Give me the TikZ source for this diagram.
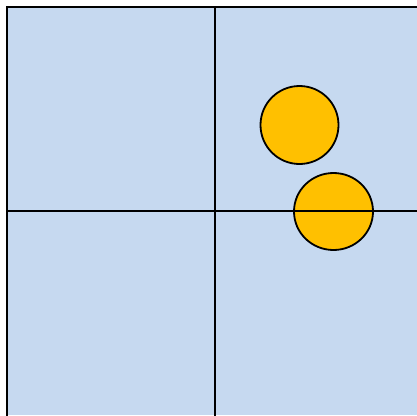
\documentclass[tikz,border=0pt]{standalone}
\definecolor{bgblue}{HTML}{C6D9F0}
\definecolor{gold}{HTML}{FFC000}
\begin{document}
\begin{tikzpicture}[x=1pt,y=-1pt,
  dot/.style={draw=black,line width=1.8pt,fill=gold},
  axis/.style={draw=black,line width=1.8pt}]
\useasboundingbox (0,0) rectangle (417,415);
\fill[bgblue] (7,7) rectangle (417,415);
\draw[axis] (7,420) -- (7,7) -- (420,7);
\draw[dot] (299.5,125) circle[radius=39];
\draw[dot] (333.5,211.5) ellipse[x radius=39.5,y radius=38.5];
\coordinate (vt) at (215,7);
\coordinate (vb) at (215,420);
\coordinate (hl) at (7,211);
\coordinate (hr) at (420,211);
\draw[axis] (vt) -- (vb);
\draw[axis] (hl) -- (hr);
\end{tikzpicture}
\end{document}
